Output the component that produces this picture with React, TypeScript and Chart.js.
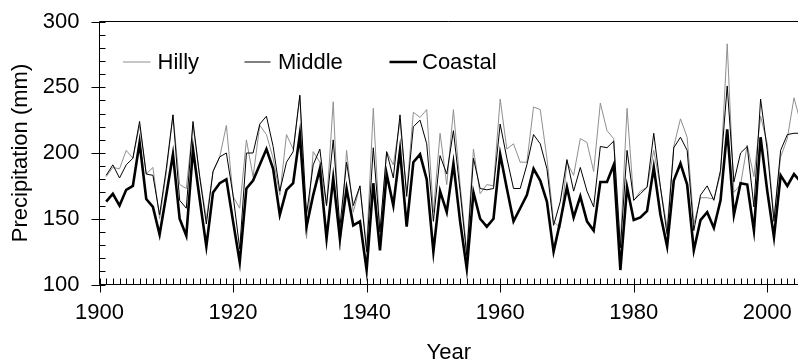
import React, { useEffect, useRef } from 'react';
import { Chart, registerables } from 'chart.js';

Chart.register(...registerables);

const YEARS = [
  1901, 1902, 1903, 1904, 1905, 1906, 1907, 1908, 1909, 1910,
  1911, 1912, 1913, 1914, 1915, 1916, 1917, 1918, 1919, 1920,
  1921, 1922, 1923, 1924, 1925, 1926, 1927, 1928, 1929, 1930,
  1931, 1932, 1933, 1934, 1935, 1936, 1937, 1938, 1939, 1940,
  1941, 1942, 1943, 1944, 1945, 1946, 1947, 1948, 1949, 1950,
  1951, 1952, 1953, 1954, 1955, 1956, 1957, 1958, 1959, 1960,
  1961, 1962, 1963, 1964, 1965, 1966, 1967, 1968, 1969, 1970,
  1971, 1972, 1973, 1974, 1975, 1976, 1977, 1978, 1979, 1980,
  1981, 1982, 1983, 1984, 1985, 1986, 1987, 1988, 1989, 1990,
  1991, 1992, 1993, 1994, 1995, 1996, 1997, 1998, 1999, 2000,
  2001, 2002, 2003, 2004, 2005,
];

const HILLY = [
  182, 189, 188, 202, 196, 221, 184, 189, 150, 185,
  229, 176, 173, 221, 183, 150, 186, 197, 221, 167,
  158, 210, 182, 221, 214, 196, 168, 214, 203, 243,
  135, 201, 193, 160, 239, 126, 202, 155, 175, 128,
  234, 138, 201, 191, 224, 170, 231, 227, 233, 155,
  215, 176, 233, 176, 125, 203, 169, 176, 175, 241,
  203, 207, 193, 193, 235, 233, 196, 148, 143, 193,
  183, 211, 208, 186, 238, 217, 211, 130, 234, 164,
  171, 174, 202, 174, 143, 205, 226, 212, 146, 166,
  166, 165, 184, 283, 170, 176, 206, 182, 228, 207,
  151, 197, 211, 242, 223,
];

const MIDDLE = [
  183, 191, 181, 191, 196, 224, 184, 183, 153, 188,
  229, 164, 158, 224, 182, 146, 186, 197, 200, 168,
  127, 200, 200, 222, 228, 205, 171, 193, 201, 244,
  153, 191, 203, 160, 210, 144, 193, 160, 175, 125,
  204, 140, 201, 181, 229, 167, 220, 225, 207, 148,
  198, 184, 217, 171, 122, 196, 173, 172, 173, 222,
  196, 173, 173, 191, 214, 207, 188, 145, 163, 195,
  171, 189, 171, 159, 205, 204, 209, 128, 202, 164,
  169, 174, 215, 174, 138, 204, 212, 202, 141, 168,
  175, 164, 187, 251, 178, 200, 205, 159, 241, 202,
  148, 202, 214, 215, 215,
];

const COASTAL = [
  163, 169, 160, 172, 175, 208, 165, 159, 138, 168,
  199, 150, 137, 203, 165, 129, 170, 177, 180, 148,
  117, 173, 179, 191, 203, 188, 153, 172, 177, 214,
  144, 168, 188, 135, 181, 135, 173, 145, 148, 111,
  177, 126, 184, 160, 202, 144, 193, 199, 180, 125,
  171, 155, 192, 148, 112, 170, 150, 144, 150, 199,
  173, 148, 158, 168, 188, 179, 163, 125, 148, 174,
  151, 167, 148, 141, 178, 178, 191, 111, 174, 149,
  151, 156, 189, 153, 129, 179, 192, 176, 126, 149,
  155, 143, 164, 218, 153, 177, 176, 141, 212, 171,
  136, 183, 175, 184, 178,
];

const SERIES_NAMES = ['Hilly', 'Middle', 'Coastal'];
const X_TICKS = [1900, 1920, 1940, 1960, 1980, 2000];
const Y_TICKS = [100, 150, 200, 250, 300];
const X_MIN = 1900;
const X_MAX = 2004.6;
const Y_MIN = 100;
const Y_MAX = 300;
const X_TITLE = 'Year';
const Y_TITLE = 'Precipitation (mm)';

const FONT_FAMILY = '"Liberation Sans", Arial, sans-serif';
const GRAY = '#8f8f8f';

const toPoints = (vals: number[]) => vals.map((v, i) => ({ x: YEARS[i], y: v }));

const framePlugin = {
  id: 'frame',
  afterDraw(chart: any) {
    const { ctx, chartArea } = chart;
    const { left, top, bottom } = chartArea;
    const right = chart.width;
    const xs = chart.scales.x;
    const ys = chart.scales.y;
    ctx.save();
    ctx.strokeStyle = '#000';
    ctx.lineWidth = 1;
    ctx.beginPath();
    ctx.moveTo(left, top);
    ctx.lineTo(left, bottom);
    ctx.moveTo(left, bottom);
    ctx.lineTo(right, bottom);
    ctx.moveTo(left, top);
    ctx.lineTo(right, top);
    for (let v = Y_MIN; v <= Y_MAX; v += 10) {
      const py = Math.round(ys.getPixelForValue(v)) + 0.5;
      const major = Y_TICKS.includes(v);
      ctx.moveTo(major ? left - 8 : left, py);
      ctx.lineTo(left + 6, py);
    }
    for (let yr = Math.ceil(xs.min); yr <= xs.max; yr += 1) {
      const px = Math.round(xs.getPixelForValue(yr)) + 0.5;
      const major = X_TICKS.includes(yr);
      ctx.moveTo(px, bottom - 6);
      ctx.lineTo(px, major ? bottom + 8 : bottom);
    }
    ctx.stroke();

    const ly = top + 40.5;
    const items = [
      { name: SERIES_NAMES[0], color: GRAY, width: 1, x0: 23.5, x1: 51, tx: 58 },
      { name: SERIES_NAMES[1], color: '#000', width: 1, x0: 145, x1: 171, tx: 178.5 },
      { name: SERIES_NAMES[2], color: '#000', width: 2.5, x0: 290, x1: 317.5, tx: 322.5 },
    ];
    ctx.font = `22px ${FONT_FAMILY}`;
    ctx.textBaseline = 'middle';
    ctx.textAlign = 'left';
    ctx.fillStyle = '#000';
    for (const it of items) {
      ctx.beginPath();
      ctx.strokeStyle = it.color;
      ctx.lineWidth = it.width;
      ctx.moveTo(left + it.x0, ly);
      ctx.lineTo(left + it.x1, ly);
      ctx.stroke();
      ctx.fillText(it.name, left + it.tx, ly + 1);
    }
    ctx.restore();
  },
};

export default function App() {
  const canvasRef = useRef<HTMLCanvasElement | null>(null);

  useEffect(() => {
    const canvas = canvasRef.current;
    if (!canvas) return;
    const chart = new Chart(canvas, {
      type: 'line',
      data: {
        datasets: [
          {
            label: SERIES_NAMES[2],
            data: toPoints(COASTAL),
            borderColor: '#000',
            borderWidth: 2.6,
            pointRadius: 0,
            tension: 0,
            order: 0,
          },
          {
            label: SERIES_NAMES[1],
            data: toPoints(MIDDLE),
            borderColor: '#000',
            borderWidth: 1,
            pointRadius: 0,
            tension: 0,
            order: 1,
          },
          {
            label: SERIES_NAMES[0],
            data: toPoints(HILLY),
            borderColor: GRAY,
            borderWidth: 1,
            pointRadius: 0,
            tension: 0,
            order: 2,
          },
        ],
      },
      options: {
        responsive: false,
        maintainAspectRatio: false,
        animation: false,
        devicePixelRatio: 1,
        layout: { padding: { top: 21.5, right: 0, left: 0, bottom: 0 } },
        plugins: {
          legend: { display: false },
          tooltip: { enabled: false },
        },
        scales: {
          x: {
            type: 'linear',
            position: 'bottom',
            min: X_MIN,
            max: X_MAX,
            grid: { display: false, drawTicks: false },
            border: { display: false },
            afterBuildTicks: (s: any) => {
              s.ticks = X_TICKS.map((v) => ({ value: v }));
            },
            afterFit: (s: any) => {
              s.height = 75.5;
              s.paddingLeft = 0;
              s.paddingRight = 0;
            },
            ticks: {
              autoSkip: false,
              maxRotation: 0,
              padding: 15,
              color: '#000',
              font: { size: 22, family: FONT_FAMILY },
              callback: (v: any) => String(v),
            },
            title: {
              display: true,
              text: X_TITLE,
              color: '#000',
              font: { size: 22, family: FONT_FAMILY, lineHeight: 0.66 },
              padding: 0,
            },
          },
          y: {
            type: 'linear',
            min: Y_MIN,
            max: Y_MAX,
            grid: { display: false, drawTicks: false },
            border: { display: false },
            afterBuildTicks: (s: any) => {
              s.ticks = Y_TICKS.map((v) => ({ value: v }));
            },
            afterFit: (s: any) => {
              s.width = 99.5;
              s.paddingTop = 0;
              s.paddingBottom = 0;
            },
            ticks: {
              padding: 20,
              color: '#000',
              font: { size: 22, family: FONT_FAMILY },
              callback: (v: any) => String(v),
            },
            title: {
              display: true,
              text: Y_TITLE,
              color: '#000',
              font: { size: 22, family: FONT_FAMILY },
              padding: { top: 8, bottom: 0 },
            },
          },
        },
      },
      plugins: [framePlugin],
    });
    return () => chart.destroy();
  }, []);

  return (
    <div style={{ position: 'fixed', left: 0, top: 0, width: 798, height: 360, background: '#fff' }}>
      <canvas ref={canvasRef} width={798} height={360} style={{ display: 'block', width: 798, height: 360 }} />
    </div>
  );
}
